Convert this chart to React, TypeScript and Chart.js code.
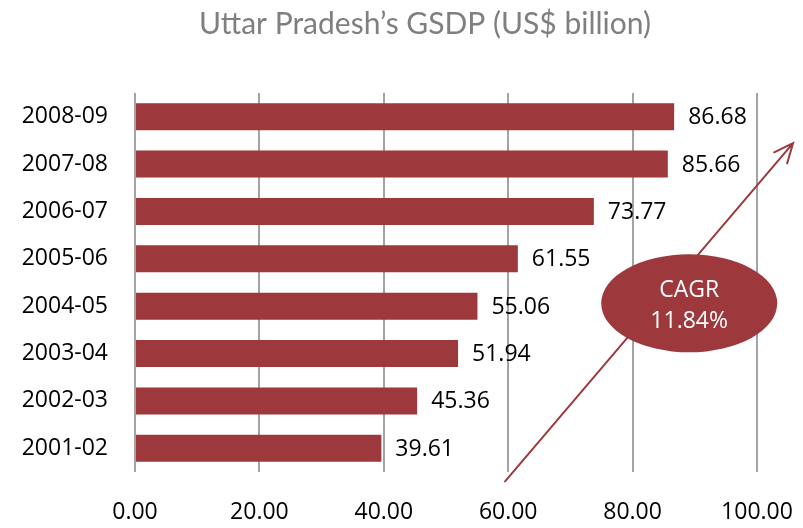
import React, { useEffect, useRef } from "react";
import { Chart, registerables } from "chart.js";

Chart.register(...registerables);

const titleText = "Uttar Pradesh’s GSDP (US$ billion)";
const categories = ["2001-02", "2002-03", "2003-04", "2004-05", "2005-06", "2006-07", "2007-08", "2008-09"];
const gsdpValues = [39.61, 45.36, 51.94, 55.06, 61.55, 73.77, 85.66, 86.68];
const xTickValues = [0, 20, 40, 60, 80, 100];
const cagrLines = ["CAGR", "11.84%"];

const RED = "#9d383d";
const FONT = "'Open Sans', 'Liberation Sans', sans-serif";

const overlayPlugin = {
  id: "overlay",
  afterDatasetsDraw(chart: any) {
    const ctx = chart.ctx;
    const meta = chart.getDatasetMeta(0);
    ctx.save();
    ctx.font = `23px ${FONT}`;
    ctx.fillStyle = "#000";
    ctx.textAlign = "left";
    ctx.textBaseline = "middle";
    meta.data.forEach((el: any, i: number) => {
      ctx.fillText(gsdpValues[i].toFixed(2), el.x + 14, el.y + 1);
    });
    ctx.restore();
  },
  afterDraw(chart: any) {
    const ctx = chart.ctx;
    const xs = chart.scales.x;
    const ys = chart.scales.y;
    // title
    ctx.save();
    ctx.font = `30px Lato, 'Open Sans', sans-serif`;
    ctx.fillStyle = "#7f7f7f";
    ctx.textAlign = "center";
    ctx.textBaseline = "alphabetic";
    ctx.fillText(titleText, 425, 34);
    ctx.restore();

    // arrow
    const x0 = xs.getPixelForValue(59.5);
    const y0 = ys.getPixelForValue(-0.7);
    const x1 = xs.getPixelForValue(105.8);
    const y1 = ys.getPixelForValue(6.44);
    ctx.save();
    ctx.strokeStyle = RED;
    ctx.lineWidth = 2;
    ctx.lineCap = "round";
    ctx.beginPath();
    ctx.moveTo(x0, y0);
    ctx.lineTo(x1, y1);
    const ang = Math.atan2(y0 - y1, x0 - x1);
    const L = 21;
    const a = (24 * Math.PI) / 180;
    ctx.moveTo(x1 + L * Math.cos(ang + a), y1 + L * Math.sin(ang + a));
    ctx.lineTo(x1, y1);
    ctx.lineTo(x1 + L * Math.cos(ang - a), y1 + L * Math.sin(ang - a));
    ctx.stroke();
    ctx.restore();

    // ellipse
    const cx = xs.getPixelForValue(89.1);
    const cy = ys.getPixelForValue(3.06);
    ctx.save();
    ctx.fillStyle = RED;
    ctx.beginPath();
    ctx.ellipse(cx, cy, 88, 49, 0, 0, Math.PI * 2);
    ctx.fill();
    ctx.fillStyle = "#fff";
    ctx.font = `23px ${FONT}`;
    ctx.textAlign = "center";
    ctx.textBaseline = "middle";
    ctx.fillText(cagrLines[0], cx, cy - 13);
    ctx.fillText(cagrLines[1], cx, cy + 18);
    ctx.restore();
  },
};

export default function App() {
  const ref = useRef<HTMLCanvasElement>(null);
  useEffect(() => {
    if (!ref.current) return;
    const chart = new Chart(ref.current, {
      type: "bar",
      data: {
        labels: categories,
        datasets: [
          {
            data: gsdpValues,
            backgroundColor: RED,
            borderWidth: 0,
            barPercentage: 0.57,
            categoryPercentage: 1,
          },
        ],
      },
      options: {
        indexAxis: "y",
        animation: false,
        responsive: false,
        devicePixelRatio: 1,
        layout: { padding: { top: 93, right: 46, bottom: 0, left: 0 } },
        plugins: { legend: { display: false }, tooltip: { enabled: false }, title: { display: false } },
        scales: {
          x: {
            min: 0,
            max: 100,
            afterFit: (s: any) => {
              s.height = 56;
              s.paddingLeft = 0;
              s.paddingRight = 0;
            },
            afterBuildTicks: (s: any) => {
              s.ticks = xTickValues.map((v) => ({ value: v }));
            },
            grid: { color: "#a3a3a3", lineWidth: 2, drawTicks: false },
            border: { display: false },
            ticks: {
              font: { family: FONT, size: 23 },
              color: "#000",
              padding: 27,
              callback: (v: any) => Number(v).toFixed(2),
            },
          },
          y: {
            reverse: true,
            afterFit: (s: any) => {
              s.width = 135;
              s.paddingTop = 0;
              s.paddingBottom = 0;
            },
            grid: { display: false, drawTicks: false },
            border: { display: false },
            ticks: {
              font: { family: FONT, size: 23 },
              color: "#000",
              padding: 27,
            },
          },
        },
      },
      plugins: [overlayPlugin],
    });
    return () => chart.destroy();
  }, []);
  return (
    <div style={{ position: "fixed", left: 0, top: 0, width: 803, height: 528, background: "#fff" }}>
      <canvas ref={ref} width={803} height={528} style={{ width: 803, height: 528 }} />
    </div>
  );
}
